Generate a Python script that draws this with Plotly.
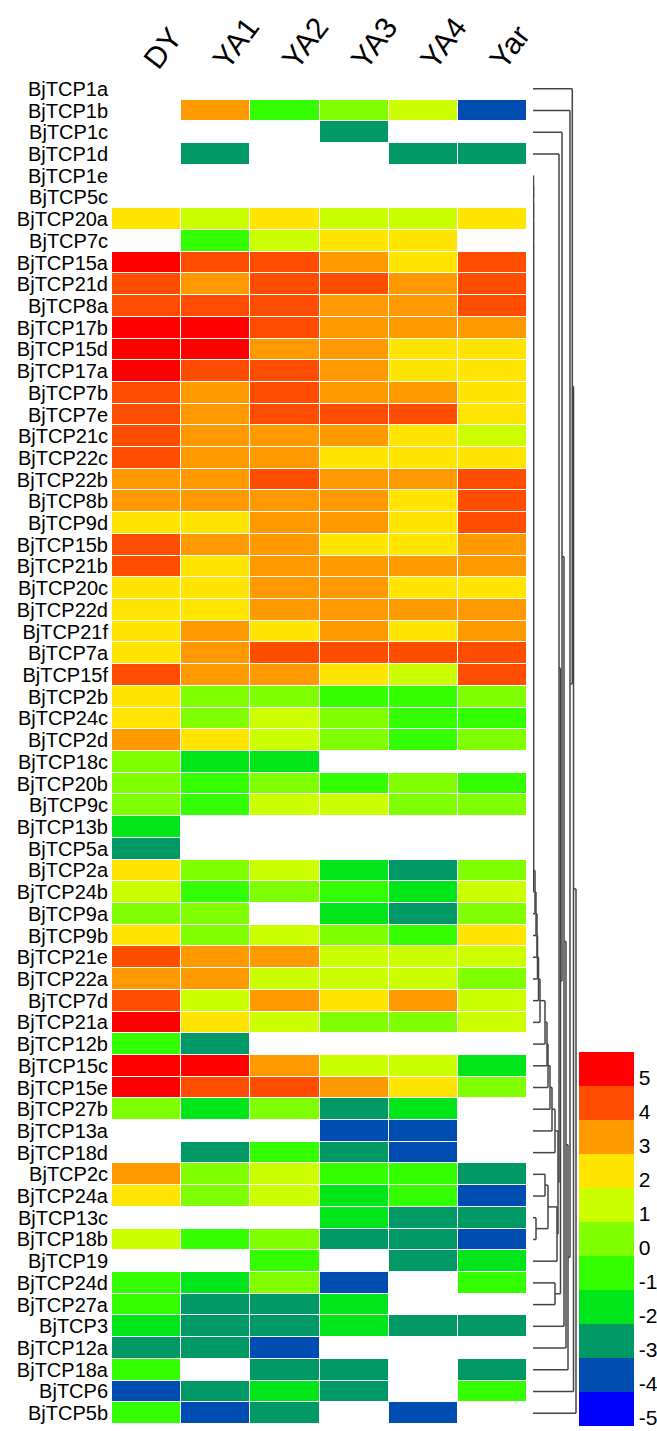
import plotly.graph_objects as go

columns = ["DY", "YA1", "YA2", "YA3", "YA4", "Yar"]
genes = ["BjTCP1a", "BjTCP1b", "BjTCP1c", "BjTCP1d", "BjTCP1e", "BjTCP5c", "BjTCP20a", "BjTCP7c",
         "BjTCP15a", "BjTCP21d", "BjTCP8a", "BjTCP17b", "BjTCP15d", "BjTCP17a", "BjTCP7b", "BjTCP7e",
         "BjTCP21c", "BjTCP22c", "BjTCP22b", "BjTCP8b", "BjTCP9d", "BjTCP15b", "BjTCP21b", "BjTCP20c",
         "BjTCP22d", "BjTCP21f", "BjTCP7a", "BjTCP15f", "BjTCP2b", "BjTCP24c", "BjTCP2d", "BjTCP18c",
         "BjTCP20b", "BjTCP9c", "BjTCP13b", "BjTCP5a", "BjTCP2a", "BjTCP24b", "BjTCP9a", "BjTCP9b",
         "BjTCP21e", "BjTCP22a", "BjTCP7d", "BjTCP21a", "BjTCP12b", "BjTCP15c", "BjTCP15e", "BjTCP27b",
         "BjTCP13a", "BjTCP18d", "BjTCP2c", "BjTCP24a", "BjTCP13c", "BjTCP18b", "BjTCP19", "BjTCP24d",
         "BjTCP27a", "BjTCP3", "BjTCP12a", "BjTCP18a", "BjTCP6", "BjTCP5b"]

N = None
DY  = [N, N, N, N, N, N, 2, N, 5, 4, 4, 5, 5, 5, 4, 4, 4, 4, 3, 3, 2, 4, 4, 2, 2, 2, 2, 4, 2, 2, 3,
       0, 0, 0, -2, -3, 2, 1, 0, 2, 4, 3, 4, 5, -1, 5, 5, 0, N, N, 3, 2, N, 1, N, -1, -1, -2, -3, -1, -4, -1]
YA1 = [N, 3, N, -3, N, N, 1, -1, 4, 3, 4, 5, 5, 4, 3, 3, 3, 3, 3, 3, 2, 3, 2, 2, 2, 3, 3, 3, 0, 0, 2,
       -2, -1, -1, N, N, 0, -1, 0, 0, 3, 3, 1, 2, -3, 5, 4, -2, N, -3, 0, 0, N, -1, N, -2, -3, -3, -3, N, -3, -4]
YA2 = [N, -1, N, N, N, N, 2, 1, 4, 4, 4, 4, 3, 4, 4, 4, 3, 3, 4, 3, 3, 3, 3, 3, 3, 2, 4, 3, 0, 1, 1,
       -2, 0, 1, N, N, 1, 0, N, 1, 3, 1, 3, 1, N, 3, 4, 0, N, -1, 1, 1, N, 0, -1, 0, -3, -3, -4, -3, -2, -3]
YA3 = [N, 0, -3, N, N, N, 1, 2, 3, 4, 3, 3, 3, 3, 3, 4, 3, 2, 3, 3, 3, 2, 3, 3, 3, 3, 4, 2, -1, 0, 0,
       N, -1, 1, N, N, -2, -1, -2, 0, 1, 1, 2, 0, N, 1, 3, -3, -4, -3, -1, -2, -2, -3, N, -4, -2, -2, N, -3, -3, N]
YA4 = [N, 1, N, -3, N, N, 1, 2, 2, 3, 3, 3, 2, 2, 3, 4, 2, 2, 3, 2, 2, 2, 3, 2, 3, 2, 4, 1, -1, -1, -1,
       N, 0, 0, N, N, -3, -2, -3, -1, 1, 1, 3, 0, N, 1, 2, -2, -4, -4, -1, -1, -3, -3, -3, N, N, -3, N, N, N, -4]
Yar = [N, -4, N, -3, N, N, 2, N, 4, 4, 4, 3, 2, 2, 2, 2, 1, 2, 4, 4, 4, 3, 3, 2, 3, 3, 4, 4, 0, -1, 0,
       N, -1, 0, N, N, 0, 1, 0, 2, 1, 0, 1, 1, N, -2, 0, N, N, N, -3, -4, -3, -4, -2, -1, N, -3, N, -3, -1, N]

legend_values = [-5, -4, -3, -2, -1, 0, 1, 2, 3, 4, 5]
legend_colors = ["#0000FF", "#004DB2", "#009966", "#00E61A", "#33FF00", "#80FF00",
                 "#CCFF00", "#FFE500", "#FF9900", "#FF4D00", "#FF0000"]

# dendrogram structure (leaf = row index, node = (left, right, height))
comb_leaves = list(range(4, 38))
comb_height = 0.5
pair_block = ((((50, 51, 12), (52, 53, 3), 15), 54, 24))
pair_q = (55, 56, 22)
ladder = [(38, 2), (39, 3), (40, 4), (41, 4.5), (42, 5.5), (43, 7), (44, 12), (45, 14),
          (46, 15), (47, 17), (48, 19), (49, 22), (pair_block, 25), (3, 26), (pair_q, 27.5),
          (2, 29), (57, 31), (58, 33), (59, 35), (1, 37), (0, 39.3), (60, 40.5), (61, 43)]

z = [[DY[i], YA1[i], YA2[i], YA3[i], YA4[i], Yar[i]] for i in range(len(genes))]

nb = len(legend_colors)
colorscale = []
for k, c in enumerate(legend_colors):
    colorscale.append([k / nb, c])
    colorscale.append([(k + 1) / nb, c])

FONT = "Liberation Sans, Arial, sans-serif"

fig = go.Figure()
fig.add_trace(go.Heatmap(
    z=z, x=list(range(len(columns))), y=list(range(len(genes))),
    colorscale=colorscale, zmin=-5.5, zmax=5.5, xgap=1, ygap=1, hoverongaps=False,
    colorbar=dict(
        x=(579 - 112) / 545, xanchor="left", y=-0.0015, yanchor="bottom",
        thickness=55, thicknessmode="pixels", len=374, lenmode="pixels",
        xpad=0, ypad=0, outlinewidth=0, ticks="",
        tickvals=[v - 0.25 for v in legend_values], ticktext=[str(v) for v in legend_values],
        tickfont=dict(family=FONT, size=21, color="black"),
    ),
))

# build dendrogram segments
tree = comb_leaves[0]
for leaf in comb_leaves[1:]:
    tree = (tree, leaf, comb_height)
for node, h in ladder:
    tree = (tree, node, h)

xs, ys = [], []


def draw(node):
    if isinstance(node, int):
        return 0.0, float(node)
    a, b, h = node
    ha, ya = draw(a)
    hb, yb = draw(b)
    xs.extend([ha, h, None, hb, h, None, h, h, None])
    ys.extend([ya, ya, None, yb, yb, None, ya, yb, None])
    return h, (ya + yb) / 2


draw(tree)

fig.add_trace(go.Scatter(x=xs, y=ys, mode="lines", xaxis="x2", yaxis="y",
                         line=dict(color="#444444", width=1.5), showlegend=False, hoverinfo="skip"))

fig.update_layout(
    width=657, height=1431,
    margin=dict(l=112, r=0, t=78, b=7, autoexpand=False),
    paper_bgcolor="white", plot_bgcolor="white",
    font=dict(family=FONT, color="black"),
    xaxis=dict(domain=[0, (527 - 112) / 545], side="top", range=[-0.5, 5.5],
               tickvals=list(range(len(columns))), ticktext=columns, tickangle=-53,
               tickfont=dict(size=30), showgrid=False, zeroline=False, showline=False, ticks="",
               ticklabelstandoff=-6),
    yaxis=dict(range=[len(genes) - 0.5, -0.5], tickvals=list(range(len(genes))), ticktext=genes,
               tickfont=dict(size=20), showgrid=False, zeroline=False, showline=False, ticks="",
               ticklabelstandoff=3),
    xaxis2=dict(domain=[(533 - 112) / 545, (578 - 112) / 545], range=[0, 45], anchor="y",
                visible=False),
)

fig.write_html("out.html", config={"displayModeBar": False},
               post_script="document.body.style.margin='0';")
